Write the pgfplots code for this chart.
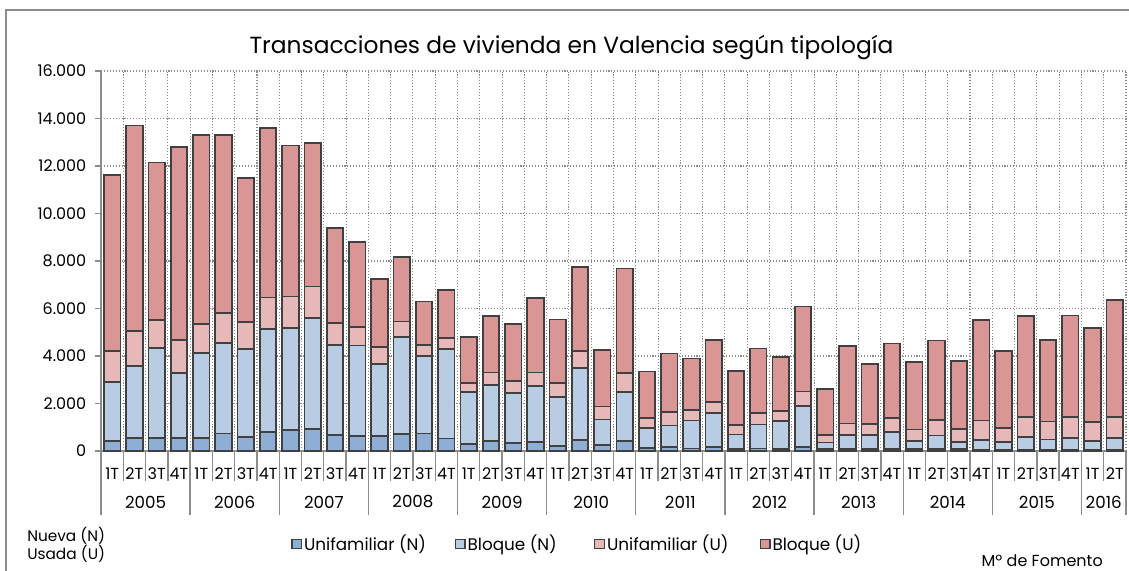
\documentclass[border=0pt]{standalone}
\usepackage{fontspec}
\setmainfont{Poppins}
\usepackage{pgfplots}
\usepackage{pgfplotstable}
\pgfplotsset{compat=1.18}

\definecolor{unin}{HTML}{8EAED6}
\definecolor{bloqn}{HTML}{B8CCE4}
\definecolor{uniu}{HTML}{E6B8B7}
\definecolor{bloqu}{HTML}{DA9694}
\definecolor{edge}{HTML}{404040}
\definecolor{axgray}{HTML}{8C8C8C}

% quarterly transactions: x UN BN UU BU
\pgfplotstableread{
x UN BN UU BU
0 420 2485 1305 7410
1 560 3020 1470 8650
2 560 3790 1170 6630
3 560 2710 1400 8140
4 560 3570 1220 7970
5 740 3810 1270 7500
6 590 3690 1140 6070
7 800 4340 1320 7150
8 870 4320 1310 6360
9 940 4660 1330 6040
10 660 3800 930 4000
11 630 3810 770 3590
12 620 3040 730 2850
13 720 4080 650 2730
14 740 3270 440 1840
15 530 3760 480 2010
16 280 2200 380 1950
17 410 2380 510 2380
18 350 2080 530 2390
19 380 2360 570 3120
20 210 2060 580 2690
21 460 3020 740 3530
22 240 1090 540 2380
23 410 2060 810 4400
24 130 850 420 1950
25 180 890 560 2480
26 100 1180 450 2170
27 180 1410 460 2610
28 70 630 410 2270
29 100 1020 490 2710
30 80 1180 420 2290
31 180 1710 610 3580
32 70 290 300 1950
33 80 590 490 3260
34 70 600 470 2520
35 70 720 590 3150
36 70 350 490 2850
37 70 580 660 3340
38 70 310 560 2850
39 60 390 840 4230
40 60 330 580 3250
41 60 530 840 4250
42 60 430 750 3430
43 60 490 880 4270
44 60 360 800 3970
45 60 490 880 4940
}\datos

\begin{document}
\begin{tikzpicture}
\useasboundingbox (0,0) rectangle (846.75pt,-428.25pt);
\draw[axgray, line width=1.5pt] (4.5pt,-430pt) -- (4.5pt,-7.5pt) -- (850pt,-7.5pt);
\node[font=\fontsize{17.5}{21}\selectfont] at (428.6pt,-36pt)
  {Transacciones de vivienda en Valencia según tipología};
\node[font=\fontsize{11.5}{13}\selectfont, anchor=west, inner sep=0pt]
  at (20.25pt,-402pt) {Nueva (N)};
\node[font=\fontsize{11.5}{13}\selectfont, anchor=west, inner sep=0pt]
  at (20.25pt,-415.5pt) {Usada (U)};
\node[font=\fontsize{12}{14}\selectfont, anchor=east, inner sep=0pt]
  at (827.25pt,-420.75pt) {Mº de Fomento};

\begin{axis}[
    at={(75.75pt,-338.25pt)}, anchor=south west,
    scale only axis,
    width=768.75pt, height=285pt,
    ybar stacked,
    bar width=0.74,
    xmin=-0.5, xmax=45.5,
    ymin=0, ymax=16000,
    axis lines*=left,
    axis line style={axgray, line width=1.2pt, -},
    ytick={0,2000,...,16000},
    yticklabel style={font=\fontsize{12}{14}\selectfont, xshift=-3pt},
    /pgf/number format/assume math mode=true,
    /pgf/number format/.cd, 1000 sep={.}, /pgfplots/.cd,
    scaled y ticks=false,
    major tick length=4.5pt,
    tick align=outside,
    ytick style={axgray, line width=1pt},
    xtick={0,...,45},
    xtick style={draw=none},
    xticklabels={1T,2T,3T,4T,1T,2T,3T,4T,1T,2T,3T,4T,1T,2T,3T,4T,
      1T,2T,3T,4T,1T,2T,3T,4T,1T,2T,3T,4T,1T,2T,3T,4T,
      1T,2T,3T,4T,1T,2T,3T,4T,1T,2T,3T,4T,1T,2T},
    xticklabel style={font=\fontsize{12}{14}\selectfont, anchor=center, yshift=-12.75pt},
    minor xtick={-0.5,0.5,...,45.5},
    ymajorgrids, xminorgrids,
    grid style={axgray, line width=0.8pt, dash pattern=on 0.8pt off 1.4pt},
    minor grid style={axgray, line width=0.8pt, dash pattern=on 0.8pt off 1.4pt},
    every axis plot/.append style={draw=edge, line width=1.3pt},
    clip=false,
    legend columns=4,
    legend style={at={(0.1815,-0.2447)}, anchor=west, draw=none, fill=none,
      font=\fontsize{12.6}{15}\selectfont,
      /tikz/every odd column/.append style={column sep=1.5pt},
      /tikz/every even column/.append style={column sep=0pt},
      nodes={inner sep=0pt}},
    legend image code/.code={\draw[#1, line width=0.9pt] (0pt,-3.6pt) rectangle (7.2pt,3.6pt);},
]
\addplot[fill=unin] table[x=x, y=UN] {\datos};
\addlegendentry{\makebox[113pt][l]{Unifamiliar (N)}}
\addplot[fill=bloqn] table[x=x, y=BN] {\datos};
\addlegendentry{\makebox[95pt][l]{Bloque (N)}}
\addplot[fill=uniu] table[x=x, y=UU] {\datos};
\addlegendentry{\makebox[114.5pt][l]{Unifamiliar (U)}}
\addplot[fill=bloqu] table[x=x, y=BU] {\datos};
\addlegendentry{Bloque (U)}

% quarter separators
\pgfplotsinvokeforeach{0,...,46}{
  \draw[axgray, line width=1pt] (axis cs:#1-0.5,0) -- ++(0pt,-22.5pt);
}
% year separators and labels
\pgfplotsinvokeforeach{0,...,11}{
  \draw[axgray, line width=1pt] (axis cs:4*#1-0.5,0) -- ++(0pt,-48pt);
}
\draw[axgray, line width=1pt] (axis cs:45.5,0) -- ++(0pt,-48pt);
\pgfplotsinvokeforeach{2005,...,2015}{
  \node[font=\fontsize{12.5}{14}\selectfont] at (axis cs:{4*(#1-2005)+1.5},0) [yshift=-38.25pt] {#1};
}
\node[font=\fontsize{12.5}{14}\selectfont] at (axis cs:44.5,0) [yshift=-38.25pt] {2016};
\end{axis}
\end{tikzpicture}
\end{document}
